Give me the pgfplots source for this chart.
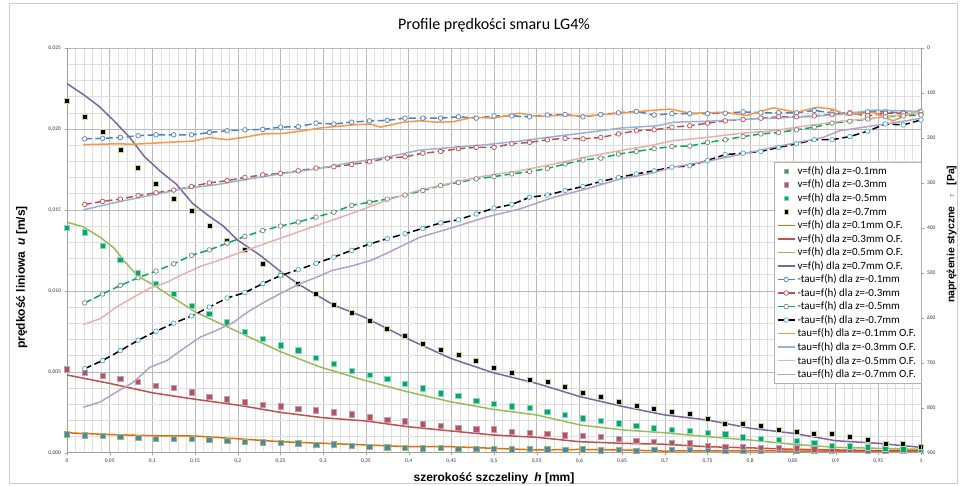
\documentclass[border=0pt]{standalone}
\usepackage{pgfplots}
\usepackage{pgfplotstable}
\pgfplotsset{compat=1.18}
\usepackage{fontspec}
\setmainfont{Carlito}
\newfontfamily\arialf{Liberation Sans}
\definecolor{cBlue}{HTML}{4F81BD}
\definecolor{cRed}{HTML}{C0504D}
\definecolor{cGreenSq}{HTML}{00B050}
\definecolor{cOlive}{HTML}{9BBB59}
\definecolor{cPurple}{HTML}{8064A2}
\definecolor{cOrange}{HTML}{F79646}
\definecolor{cOrangeV}{HTML}{E46C0A}
\definecolor{cLtBlue}{HTML}{95B3D7}
\definecolor{cPink}{HTML}{E6B0AF}
\definecolor{cLav}{HTML}{B3A2C7}
\definecolor{cTeal}{HTML}{4BACC6}
\definecolor{cGreenD}{HTML}{00B050}
\definecolor{cBlkEdge}{HTML}{C3D69B}

\pgfplotstableread{
x vb vr vg vk
0      0.00114 0.00515 0.01389 0.02171
0.0208 0.00107 0.00496 0.01362 0.02074
0.0417 0.00103 0.00473 0.01276 0.01982
0.0625 0.00097 0.00455 0.01190 0.01873
0.0833 0.00093 0.00436 0.01111 0.01762
0.1042 0.00086 0.00412 0.01041 0.01659
0.1250 0.00086 0.00401 0.00982 0.01570
0.1458 0.00086 0.00373 0.00907 0.01492
0.1667 0.00080 0.00346 0.00860 0.01401
0.1875 0.00072 0.00330 0.00805 0.01309
0.2083 0.00068 0.00311 0.00745 0.01251
0.2292 0.00064 0.00296 0.00702 0.01169
0.2500 0.00060 0.00286 0.00663 0.01097
0.2708 0.00058 0.00272 0.00632 0.01041
0.2917 0.00048 0.00262 0.00586 0.00984
0.3125 0.00052 0.00249 0.00548 0.00916
0.3333 0.00043 0.00237 0.00504 0.00864
0.3542 0.00037 0.00219 0.00482 0.00813
0.3750 0.00033 0.00204 0.00455 0.00768
0.3958 0.00029 0.00194 0.00428 0.00722
0.4167 0.00027 0.00175 0.00398 0.00675
0.4375 0.00031 0.00165 0.00367 0.00634
0.4583 0.00025 0.00154 0.00350 0.00607
0.4792 0.00025 0.00144 0.00323 0.00566
0.5000 0.00025 0.00144 0.00301 0.00523
0.5208 0.00021 0.00130 0.00286 0.00496
0.5417 0.00025 0.00122 0.00276 0.00449
0.5625 0.00021 0.00115 0.00253 0.00435
0.5833 0.00017 0.00107 0.00233 0.00404
0.6042 0.00021 0.00103 0.00212 0.00370
0.6250 0.00015 0.00097 0.00196 0.00342
0.6458 0.00017 0.00085 0.00181 0.00313
0.6667 0.00013 0.00072 0.00167 0.00290
0.6875 0.00017 0.00068 0.00151 0.00270
0.7083 0.00017 0.00062 0.00140 0.00251
0.7292 0.00017 0.00058 0.00134 0.00241
0.7500 0.00017 0.00041 0.00123 0.00212
0.7708 0.00015 0.00037 0.00114 0.00181
0.7917 0.00013 0.00035 0.00095 0.00177
0.8125 0.00013 0.00031 0.00086 0.00163
0.8333 0.00017 0.00029 0.00082 0.00144
0.8542 0.00015 0.00027 0.00072 0.00126
0.8750 0.00013 0.00021 0.00062 0.00114
0.8958 0.00015 0.00017 0.00043 0.00114
0.9167 0.00017 0.00019 0.00039 0.00097
0.9375 0.00015 0.00013 0.00033 0.00078
0.9583 0.00015 0.00013 0.00027 0.00052
0.9792 0.00017 0.00013 0.00021 0.00052
1.0000 0.00017 0.00017 0.00017 0.00037
}\vtab

\pgfplotstableread{
x tb tr tg tk
0.0208 202 348 567 713
0.0417 201 341 547 695
0.0625 199 336 528 673
0.0833 195 328 511 650
0.1042 193 322 496 630
0.1250 193 316 480 612
0.1458 193 308 461 596
0.1667 188 300 449 576
0.1875 184 295 434 556
0.2083 182 288 419 544
0.2292 181 282 406 524
0.2500 176 279 396 506
0.2708 175 273 387 493
0.2917 167 267 376 479
0.3125 169 264 365 465
0.3333 165 259 350 450
0.3542 162 253 343 436
0.3750 161 245 336 424
0.3958 156 242 327 413
0.4167 156 234 317 401
0.4375 156 230 306 389
0.4583 153 224 299 382
0.4792 156 221 291 369
0.5000 151 221 286 356
0.5208 151 213 280 348
0.5417 153 210 275 332
0.5625 149 204 268 327
0.5833 148 201 258 317
0.6042 153 202 249 308
0.6250 148 199 245 297
0.6458 144 191 236 288
0.6667 141 184 230 280
0.6875 149 182 224 273
0.7083 146 176 219 265
0.7292 146 173 218 262
0.7500 146 167 210 250
0.7708 145 162 204 237
0.7917 142 159 197 234
0.8125 144 156 191 230
0.8333 144 153 188 221
0.8542 144 153 182 213
0.8750 139 151 176 204
0.8958 144 148 167 204
0.9167 144 145 163 197
0.9375 142 151 158 185
0.9583 142 145 153 169
0.9792 144 145 151 171
1.0000 142 148 149 160
}\ttab

\begin{document}
\begin{tikzpicture}[x=1pt,y=1pt]
\useasboundingbox (0,0) rectangle (964,486);
\draw[gray!40] (9,3) rectangle (957,483);

\begin{axis}[
  at={(67pt,33.3pt)}, anchor=south west,
  scale only axis, width=854pt, height=404.7pt,
  xmin=0, xmax=1, ymin=0, ymax=0.025,
  axis x line*=bottom, axis y line*=left,
  axis line style={gray!75},
  xtick={0,0.05,0.1,0.15,0.2,0.25,0.3,0.35,0.4,0.45,0.5,0.55,0.6,0.65,0.7,0.75,0.8,0.85,0.9,0.95,1},
  xticklabels={0,{0,05},{0,1},{0,15},{0,2},{0,25},{0,3},{0,35},{0,4},{0,45},{0,5},{0,55},{0,6},{0,65},{0,7},{0,75},{0,8},{0,85},{0,9},{0,95},1},
  minor x tick num=4,
  ytick={0,0.005,0.01,0.015,0.02,0.025},
  yticklabels={{0,000},{0,005},{0,010},{0,015},{0,020},{0,025}},
  minor y tick num=4,
  grid=both,
  major grid style={gray!55, line width=0.5pt},
  minor grid style={gray!25, line width=0.4pt},
  tick align=outside, major tick length=2.5pt, minor tick length=0pt,
  tick style={gray!75},
  ticklabel style={font=\fontsize{5.5}{6}\selectfont, text=black!80},
  scaled y ticks=false, scaled x ticks=false,
  title={Profile prędkości smaru LG4\%},
  title style={font=\fontsize{16}{18}\selectfont, at={(axis description cs:0.5,1)}, anchor=center, yshift=16.3pt},
  xlabel={szerokość szczeliny\hspace{6pt}\textit{h} [mm]},
  xlabel style={font=\arialf\bfseries\fontsize{12}{14}\selectfont, at={(axis description cs:0.5,0)}, anchor=center, yshift=-26pt},
  ylabel={prędkość liniowa\hspace{6pt}\textit{u} [m/s]},
  every axis y label/.style={at={(axis description cs:-0.053,0.433)}, rotate=90, anchor=center, font=\arialf\bfseries\fontsize{12}{14}\selectfont},
]
\addplot[only marks, mark=square*, mark size=2.7pt, mark options={fill=cBlue, draw=cOlive, line width=0.6pt}] table[x=x, y=vb] {\vtab};
\addplot[only marks, mark=square*, mark size=2.6pt, mark options={fill=cRed, draw=cLav, line width=0.6pt}] table[x=x, y=vr] {\vtab};
\addplot[only marks, mark=square*, mark size=2.6pt, mark options={fill=cGreenSq, draw=cTeal!60, line width=0.6pt}] table[x=x, y=vg] {\vtab};
\addplot[only marks, mark=square*, mark size=2.5pt, mark options={fill=black, draw=cBlkEdge, line width=0.7pt}] table[x=x, y=vk] {\vtab};

\addplot[cOrangeV, line width=1.5pt, no marks] coordinates {
(0,0.00123) (0.05,0.00112) (0.1,0.00105) (0.15,0.00103) (0.2,0.00086) (0.25,0.00068) (0.3,0.00058) (0.35,0.00048) (0.4,0.00037) (0.45,0.00037) (0.5,0.00027) (0.55,0.00017) (0.6,0.0002) (0.65,0.00017) (0.7,0.0001) (0.75,0.00012) (0.8,0.00012) (0.85,0.0001) (0.9,0.0001) (0.95,0.0001) (1,0.0001)};
\addplot[cRed, line width=1.5pt, no marks] coordinates {
(0,0.0048) (0.05,0.00428) (0.1,0.0037) (0.15,0.0033) (0.2,0.00294) (0.25,0.00249) (0.3,0.00216) (0.35,0.00196) (0.4,0.0016) (0.45,0.00134) (0.5,0.00109) (0.55,0.00095) (0.6,0.00068) (0.65,0.00058) (0.7,0.00052) (0.75,0.00037) (0.8,0.0003) (0.85,0.00021) (0.9,0.00017) (0.95,0.00013) (1,0.00015)};
\addplot[cOlive, line width=1.5pt, no marks] coordinates {
(0,0.01424) (0.019,0.01395) (0.039,0.0133) (0.055,0.01265) (0.066,0.0119) (0.083,0.0109) (0.1,0.0104) (0.15,0.0087) (0.2,0.00747) (0.25,0.00624) (0.296,0.0053) (0.347,0.00449) (0.398,0.00377) (0.449,0.00315) (0.499,0.00268) (0.55,0.00233) (0.601,0.00171) (0.652,0.0014) (0.7,0.00123) (0.75,0.00099) (0.8,0.00078) (0.85,0.00052) (0.9,0.00033) (0.95,0.00027) (1,0.00021)};
\addplot[cPurple, line width=1.5pt, no marks] coordinates {
(0,0.0228) (0.0187,0.02214) (0.0375,0.0214) (0.055,0.0205) (0.0738,0.01945) (0.091,0.01827) (0.11,0.01735) (0.128,0.01659) (0.147,0.0154) (0.165,0.01467) (0.183,0.014) (0.2,0.01312) (0.226,0.0122) (0.253,0.01107) (0.273,0.01035) (0.312,0.00912) (0.347,0.0084) (0.398,0.00706) (0.449,0.00583) (0.499,0.00494) (0.55,0.00428) (0.601,0.00346) (0.652,0.00284) (0.7,0.00233) (0.75,0.00202) (0.8,0.00151) (0.85,0.0012) (0.9,0.00074) (0.95,0.00058) (1,0.00033)};
\end{axis}

\begin{axis}[
  at={(67pt,33.3pt)}, anchor=south west,
  scale only axis, width=854pt, height=404.7pt,
  xmin=0, xmax=1, ymin=0, ymax=900, y dir=reverse,
  axis x line=none, axis y line*=right,
  axis line style={gray!75},
  ytick={0,100,200,300,400,500,600,700,800,900},
  yticklabels={0,100,200,300,400,500,600,700,800,900},
  tick align=outside, major tick length=2.5pt, tick style={gray!75},
  ticklabel style={font=\fontsize{5.5}{6}\selectfont, text=black!80},
  ylabel={naprężenie styczne\hspace{9pt}{\mdseries\itshape\color{gray}\fontsize{8}{9}\selectfont τ}\hspace{9pt}[Pa]},
  every axis y label/.style={at={(axis description cs:1.036,0.54)}, rotate=90, anchor=center, font=\arialf\bfseries\fontsize{10.5}{12}\selectfont},
  legend cell align=left,
  legend style={at={(axis description cs:1,0.718)}, anchor=north east, font=\fontsize{11}{12}\selectfont, text=black, draw=gray!60, fill=white, row sep=0pt, inner xsep=3pt, inner ysep=2pt},
]
\addlegendimage{only marks, mark=square*, mark size=2.4pt, mark options={fill=cBlue, draw=cOlive}}
\addlegendentry{v=f(h) dla z=-0.1mm}
\addlegendimage{only marks, mark=square*, mark size=2.4pt, mark options={fill=cRed, draw=cLav}}
\addlegendentry{v=f(h) dla z=-0.3mm}
\addlegendimage{only marks, mark=square*, mark size=2.4pt, mark options={fill=cGreenSq, draw=cTeal!60}}
\addlegendentry{v=f(h) dla z=-0.5mm}
\addlegendimage{only marks, mark=square*, mark size=2.2pt, mark options={fill=black, draw=cBlkEdge}}
\addlegendentry{v=f(h) dla z=-0.7mm}
\addlegendimage{cOrangeV, line width=1.5pt}
\addlegendentry{v=f(h) dla z=0.1mm O.F.}
\addlegendimage{cRed, line width=1.5pt}
\addlegendentry{v=f(h) dla z=0.3mm O.F.}
\addlegendimage{cOlive, line width=1.5pt}
\addlegendentry{v=f(h) dla z=0.5mm O.F.}
\addlegendimage{cPurple, line width=1.5pt}
\addlegendentry{v=f(h) dla z=0.7mm O.F.}

\addplot[cBlue, line width=1.5pt, dash pattern=on 7pt off 3.5pt, mark=*, mark size=2.3pt, mark options={solid, fill=white, draw=cBlue, line width=0.7pt}] table[x=x, y=tb] {\ttab};
\addlegendentry{-tau=f(h) dla z=-0.1mm}
\addplot[cRed, line width=1.5pt, dash pattern=on 7pt off 3.5pt, mark=*, mark size=2.3pt, mark options={solid, fill=white, draw=cRed, line width=0.7pt}] table[x=x, y=tr] {\ttab};
\addlegendentry{-tau=f(h) dla z=-0.3mm}
\addplot[cGreenD, line width=1.5pt, dash pattern=on 7pt off 3.5pt, mark=*, mark size=2.3pt, mark options={solid, fill=white, draw=gray, line width=0.7pt}] table[x=x, y=tg] {\ttab};
\addlegendentry{-tau=f(h) dla z=-0.5mm}
\addplot[black, line width=1.5pt, dash pattern=on 7pt off 3.5pt, mark=*, mark size=2.3pt, mark options={solid, fill=white, draw=cTeal, line width=0.7pt}] table[x=x, y=tk] {\ttab};
\addlegendentry{-tau=f(h) dla z=-0.7mm}

\addplot[cOrange, line width=1.5pt, no marks] coordinates {
(0.019,215) (0.058,213) (0.078,214) (0.117,210) (0.148,207) (0.167,199) (0.187,204) (0.206,199) (0.230,191) (0.253,190) (0.273,185) (0.296,178) (0.335,171) (0.355,169) (0.367,176) (0.394,165) (0.413,162) (0.433,165) (0.452,164) (0.476,154) (0.499,156) (0.530,145) (0.550,152) (0.577,150) (0.609,151) (0.648,145) (0.683,139) (0.706,136) (0.730,145) (0.769,143) (0.796,150) (0.827,133) (0.854,143) (0.878,132) (0.897,136) (0.913,149) (0.944,143) (0.967,162) (0.983,150) (1.0,136)};
\addlegendentry{tau=f(h) dla z=-0.1mm O.F.}
\addplot[cLtBlue, line width=1.5pt, no marks] coordinates {
(0.019,360) (0.058,343) (0.097,328) (0.136,313) (0.175,304) (0.214,291) (0.253,279) (0.292,269) (0.335,254) (0.374,243) (0.413,227) (0.452,221) (0.491,215) (0.530,207) (0.570,197) (0.609,188) (0.648,178) (0.691,173) (0.710,165) (0.749,163) (0.788,159) (0.827,156) (0.866,153) (0.905,148) (0.944,138) (0.983,140) (1.0,142)};
\addlegendentry{tau=f(h) dla z=-0.3mm O.F.}
\addplot[cPink, line width=1.5pt, no marks] coordinates {
(0.019,615) (0.039,602) (0.058,576) (0.078,554) (0.097,534) (0.117,521) (0.136,503) (0.156,486) (0.175,474) (0.214,447) (0.253,421) (0.292,395) (0.333,368) (0.374,339) (0.413,316) (0.452,299) (0.491,284) (0.530,273) (0.570,258) (0.609,242) (0.648,228) (0.683,217) (0.710,206) (0.749,199) (0.788,190) (0.827,184) (0.866,173) (0.905,163) (0.944,156) (0.983,147) (1.0,142)};
\addlegendentry{tau=f(h) dla z=-0.5mm O.F.}
\addplot[cLav, line width=1.5pt, no marks] coordinates {
(0.019,799) (0.039,787) (0.058,765) (0.078,743) (0.097,710) (0.117,695) (0.136,669) (0.156,643) (0.175,628) (0.195,610) (0.214,584) (0.234,562) (0.253,543) (0.273,524) (0.292,510) (0.310,495) (0.335,484) (0.355,473) (0.374,457) (0.413,421) (0.452,399) (0.491,376) (0.530,358) (0.570,332) (0.609,313) (0.648,291) (0.683,279) (0.710,265) (0.749,252) (0.788,237) (0.827,221) (0.866,206) (0.885,199) (0.905,184) (0.944,173) (0.983,162) (1.0,156)};
\addlegendentry{tau=f(h) dla z=-0.7mm O.F.}
\end{axis}
\end{tikzpicture}
\end{document}
